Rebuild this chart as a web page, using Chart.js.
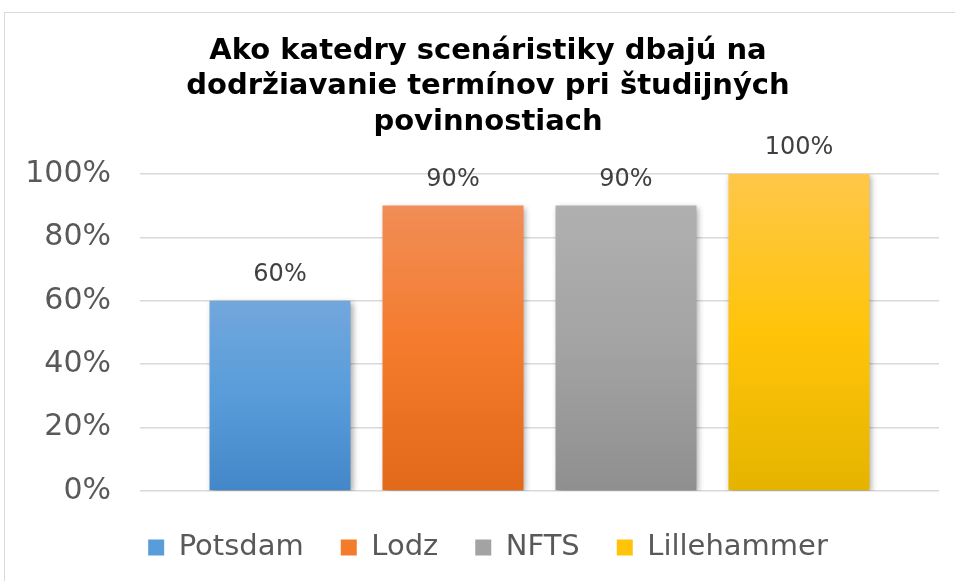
<!DOCTYPE html>
<html>
<head>
<meta charset="utf-8">
<script src="https://cdn.jsdelivr.net/npm/chart.js@4.4.1/dist/chart.umd.min.js"></script>
<style>
  html, body { margin: 0; padding: 0; background: #fff; overflow: hidden; }
  #box { position: absolute; left: 4px; top: 12px; border: 1px solid #d9d9d9; }
  #chart { display: block; }
</style>
</head>
<body>
<div id="box"><canvas id="chart" width="966" height="585"></canvas></div>
<script>
// chart data
const titleLines = ['Ako katedry scenáristiky dbajú na', 'dodržiavanie termínov pri študijných', 'povinnostiach'];
const schools = ['Potsdam', 'Lodz', 'NFTS', 'Lillehammer'];
const values = [60, 90, 90, 100];
const yTicks = [0, 20, 40, 60, 80, 100];

// gradient stops (top, middle, bottom) and flat legend colour for each school
const topColors = ['#72a7dc', '#f18d57', '#b0b0b0', '#ffc749'];
const midColors = ['#589cda', '#f47b2b', '#a3a3a3', '#ffc409'];
const bottomColors = ['#4487c8', '#e2681a', '#8f8f8f', '#e5b400'];

function barGradient(i) {
  return function (context) {
    const chart = context.chart;
    if (!chart.chartArea || context.type !== 'data') return midColors[i];
    const y = chart.scales.y;
    const top = y.getPixelForValue(values[i]);
    const bottom = y.getPixelForValue(0);
    const g = chart.ctx.createLinearGradient(0, top, 0, bottom);
    g.addColorStop(0, topColors[i]);
    g.addColorStop(0.5, midColors[i]);
    g.addColorStop(1, bottomColors[i]);
    return g;
  };
}

const datasets = schools.map(function (name, i) {
  return {
    label: name,
    data: [values[i]],
    backgroundColor: barGradient(i),
    borderWidth: 0,
    categoryPercentage: 0.866,
    barPercentage: 0.815
  };
});

// soft drop shadow under bars
const shadowPlugin = {
  id: 'shadow',
  beforeDatasetsDraw(chart) {
    const ctx = chart.ctx;
    ctx.save();
    ctx.shadowColor = 'rgba(0,0,0,0.35)';
    ctx.shadowBlur = 6;
    ctx.shadowOffsetX = 2;
    ctx.shadowOffsetY = 2;
  },
  afterDatasetsDraw(chart) {
    chart.ctx.restore();
  }
};

// value labels above the bars
const labelPlugin = {
  id: 'valueLabels',
  afterDatasetsDraw(chart) {
    const ctx = chart.ctx;
    ctx.save();
    ctx.font = '24px "DejaVu Sans"';
    ctx.fillStyle = '#404040';
    ctx.textAlign = 'center';
    ctx.textBaseline = 'alphabetic';
    chart.data.datasets.forEach(function (ds, i) {
      const bar = chart.getDatasetMeta(i).data[0];
      ctx.fillText(ds.data[0] + '%', bar.x, bar.y - 20);
    });
    ctx.restore();
  }
};

new Chart(document.getElementById('chart'), {
  type: 'bar',
  data: { labels: [''], datasets: datasets },
  options: {
    responsive: false,
    animation: false,
    layout: { padding: { left: 0, right: 0, top: 0, bottom: 26 } },
    plugins: {
      title: {
        display: true,
        text: titleLines,
        color: '#000',
        font: { family: 'DejaVu Sans', size: 29, weight: 'bold', lineHeight: 1.24 },
        padding: { top: 20, bottom: 33 }
      },
      legend: {
        position: 'bottom',
        labels: {
          color: '#595959',
          font: { family: 'DejaVu Sans', size: 29 },
          boxWidth: 16,
          boxHeight: 16,
          padding: 37,
          generateLabels: function (chart) {
            return chart.data.datasets.map(function (ds, i) {
              return {
                text: ds.label,
                fillStyle: midColors[i],
                strokeStyle: midColors[i],
                lineWidth: 0,
                fontColor: '#595959',
                datasetIndex: i
              };
            });
          }
        }
      },
      tooltip: { enabled: false }
    },
    scales: {
      x: {
        grid: { display: false },
        border: { display: false },
        ticks: { display: false },
        afterFit: function (scale) { scale.height = 5; }
      },
      y: {
        min: 0,
        max: 100,
        afterBuildTicks: function (scale) {
          scale.ticks = yTicks.map(function (v) { return { value: v }; });
        },
        grid: { color: '#d9d9d9', lineWidth: 1.5, drawTicks: false },
        border: { display: false },
        ticks: {
          color: '#595959',
          font: { family: 'DejaVu Sans', size: 30 },
          padding: 29,
          callback: function (v) { return v + '%'; }
        },
        afterFit: function (scale) { scale.width = 135; }
      },
      // empty right-hand axis only to leave the right margin
      yRight: {
        position: 'right',
        grid: { display: false },
        border: { display: false },
        ticks: { display: false },
        afterFit: function (scale) { scale.width = 32; }
      }
    }
  },
  plugins: [shadowPlugin, labelPlugin]
});
</script>
</body>
</html>
